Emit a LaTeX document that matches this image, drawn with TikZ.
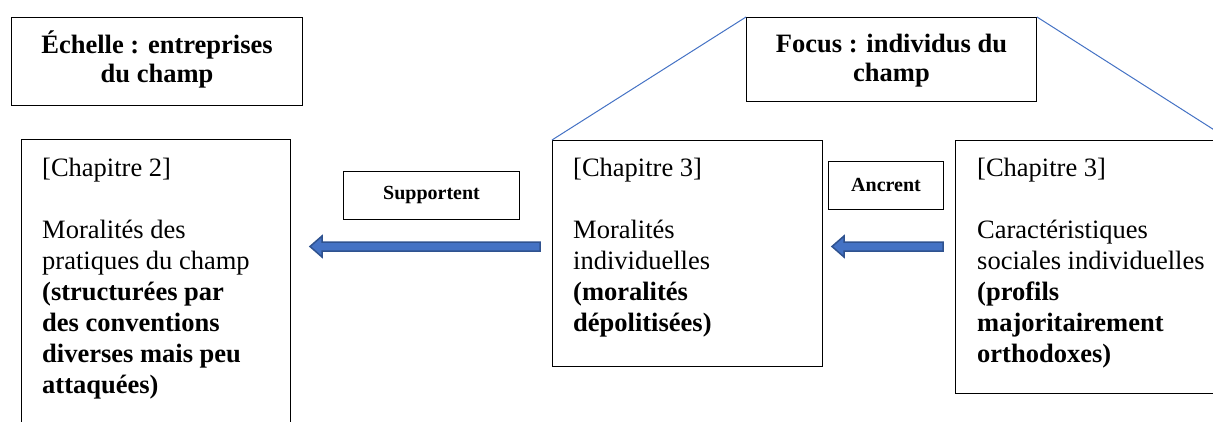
\documentclass[tikz,border=0pt]{standalone}
\usepackage{fontspec}
\setmainfont{Liberation Serif}
\usetikzlibrary{calc}
\definecolor{arrowfill}{HTML}{4472C4}
\definecolor{arrowline}{HTML}{2F528F}
\definecolor{linkblue}{HTML}{4472C4}
\begin{document}
\begin{tikzpicture}[x=1pt,y=-1pt,
  box/.style={draw=black, line width=1pt, inner sep=0pt, anchor=north west},
  body/.style={anchor=north west, inner sep=0pt, align=left, font=\fontsize{26.5}{31}\selectfont},
  title/.style={inner sep=0pt, font=\fontsize{26.5}{29}\selectfont\bfseries, align=center},
  small/.style={inner sep=0pt, font=\fontsize{20}{24}\selectfont\bfseries},
  blockarrow/.style={fill=arrowfill, draw=arrowline, line width=1.5pt, line join=miter},
  link/.style={draw=linkblue, line width=1pt}]
\useasboundingbox (0,0) rectangle (1213,421);
\clip (0,0) rectangle (1213,421);

% boxes
\node[box, minimum width=291, minimum height=88] (echelle) at (11,17) {};
\node[box, minimum width=290, minimum height=84] (focus) at (746,17) {};
\node[box, minimum width=269, minimum height=300] (lbox) at (21,139) {};
\node[box, minimum width=270, minimum height=226] (mid) at (552,140) {};
\node[box, minimum width=274, minimum height=253] (rbox) at (955,140) {};
\node[box, minimum width=176, minimum height=48] (sup) at (343,171) {};
\node[box, minimum width=115, minimum height=48] (anc) at (828,161) {};

% titles
\node[title] (echelleT) at ($(echelle.center)+(0,-2)$) {Échelle : entreprises\\du champ};
\node[title] (focusT) at ($(focus.center)+(0,1)$) {Focus : individus du\\champ};
\node[small] (supT) at (sup.center) {Supportent};
\node[small] (ancT) at ($(anc.center)+(0,-1)$) {Ancrent};

% body texts
\node[body] (lboxT) at (42,154) {\rule{0pt}{22pt}[Chapitre 2]\\[31pt]Moralités des\\pratiques du champ\\\textbf{(structurées par}\\\textbf{des conventions}\\\textbf{diverses mais peu}\\\textbf{attaquées)}};
\node[body] (midT) at (573,154) {\rule{0pt}{22pt}[Chapitre 3]\\[31pt]Moralités\\individuelles\\\textbf{(moralités}\\\textbf{dépolitisées)}};
\node[body] (rboxT) at (977,154) {\rule{0pt}{22pt}[Chapitre 3]\\[31pt]Caractéristiques\\sociales individuelles\\\textbf{(profils}\\\textbf{majoritairement}\\\textbf{orthodoxes)}};

% blue zoom lines
\draw[link] (focus.north west) -- (mid.north west);
\draw[link] (focus.north east) -- (rbox.north east);

% block arrows
\coordinate (a1tail) at (540,246.5);
\coordinate (a1tip) at (310,246.5);
\coordinate (a2tail) at (943,246.5);
\coordinate (a2tip) at (832,246.5);
\draw[blockarrow] (a1tip) -- ($(a1tip)+(12,-10.5)$) -- ($(a1tip)+(12,-4.5)$) -- ($(a1tail)+(0,-4.5)$) -- ($(a1tail)+(0,4.5)$) -- ($(a1tip)+(12,4.5)$) -- ($(a1tip)+(12,10.5)$) -- cycle;
\draw[blockarrow] (a2tip) -- ($(a2tip)+(12,-10.5)$) -- ($(a2tip)+(12,-4.5)$) -- ($(a2tail)+(0,-4.5)$) -- ($(a2tail)+(0,4.5)$) -- ($(a2tip)+(12,4.5)$) -- ($(a2tip)+(12,10.5)$) -- cycle;
\end{tikzpicture}
\end{document}
